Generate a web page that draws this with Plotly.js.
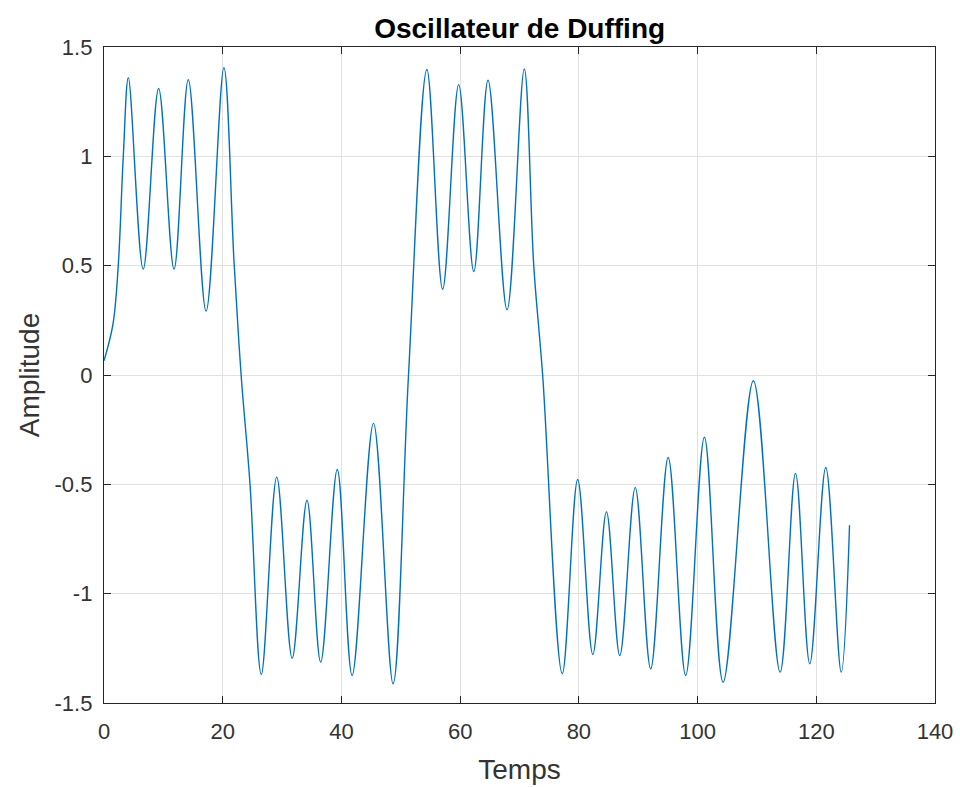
<!DOCTYPE html>
<html>
<head>
<meta charset="utf-8">
<script src="https://cdn.plot.ly/plotly-3.0.1.min.js"></script>
<style>
html,body{margin:0;padding:0;background:#fff;}
#chart{width:960px;height:787px;}
</style>
</head>
<body>
<div id="chart"></div>
<script>
// Points (time, amplitude)
const temps = [0, 1.5, 2.4, 3.25, 4.1, 6.6, 9.2, 11.8, 14.2, 17.2, 20.2, 21.9, 23.1, 24.6, 26.5,
  29.1, 31.7, 34.2, 36.5, 39.3, 41.8, 45.4, 48.7, 51.3, 54.4, 57.05, 59.75, 62.3, 64.7, 67.9,
  70.8, 72.4, 73.9, 77.2, 79.8, 82.35, 84.65, 86.9, 89.5, 92.1, 95.05, 98.0, 101.15, 104.3,
  109.4, 113.9, 116.5, 118.9, 121.6, 124.2, 125.6];
const amplitude = [0.065, 0.23, 0.5, 1.0, 1.36, 0.484, 1.31, 0.484, 1.35, 0.292, 1.405, 0.52, 0.0, -0.5, -1.37,
  -0.467, -1.295, -0.573, -1.313, -0.432, -1.374, -0.221, -1.412, 0.0, 1.397, 0.392, 1.328, 0.473, 1.348, 0.298,
  1.40, 0.5, 0.0, -1.366, -0.478, -1.278, -0.626, -1.283, -0.515, -1.344, -0.377, -1.374, -0.285, -1.405,
  -0.026, -1.359, -0.45, -1.321, -0.423, -1.359, -0.687];

const xTickVals = [0, 20, 40, 60, 80, 100, 120, 140];
const xTickText = ['0', '20', '40', '60', '80', '100', '120', '140'];
const yTickVals = [-1.5, -1, -0.5, 0, 0.5, 1, 1.5];
const yTickText = ['-1.5', '-1', '-0.5', '0', '0.5', '1', '1.5'];

const FONT = 'Liberation Sans, Arial, Helvetica, sans-serif';

const axisCommon = {
  showline: true, linecolor: '#262626', linewidth: 1.2, mirror: 'ticks',
  ticks: 'inside', ticklen: 7, tickcolor: '#262626', tickwidth: 1,
  showgrid: true, gridcolor: '#e1e1e1', gridwidth: 1, zeroline: false,
  automargin: false,
  tickfont: {family: FONT, size: 22, color: '#333333'}
};

const trace = {
  x: temps, y: amplitude, type: 'scatter', mode: 'lines',
  line: {color: '#0072BD', width: 1.4, shape: 'spline', smoothing: 1},
  hoverinfo: 'skip'
};

const layout = {
  width: 960, height: 787,
  margin: {l: 104, r: 25, t: 47, b: 84},
  paper_bgcolor: '#ffffff', plot_bgcolor: '#ffffff',
  showlegend: false,
  title: {text: '<b>Oscillateur de Duffing</b>', x: 0.5413, xanchor: 'center', y: 0.964, yanchor: 'middle',
    font: {family: FONT, size: 28, color: '#000000'}},
  xaxis: Object.assign({}, axisCommon, {
    range: [0, 140], tickvals: xTickVals, ticktext: xTickText, ticklabelstandoff: 8,
    title: {text: 'Temps', standoff: 16, font: {family: FONT, size: 28, color: '#333333'}}
  }),
  yaxis: Object.assign({}, axisCommon, {
    range: [-1.5, 1.5], tickvals: yTickVals, ticktext: yTickText, ticklabelstandoff: 6,
    title: {text: 'Amplitude', standoff: 6, font: {family: FONT, size: 28, color: '#333333'}}
  })
};

Plotly.newPlot('chart', [trace], layout, {displayModeBar: false, staticPlot: true});
</script>
</body>
</html>
